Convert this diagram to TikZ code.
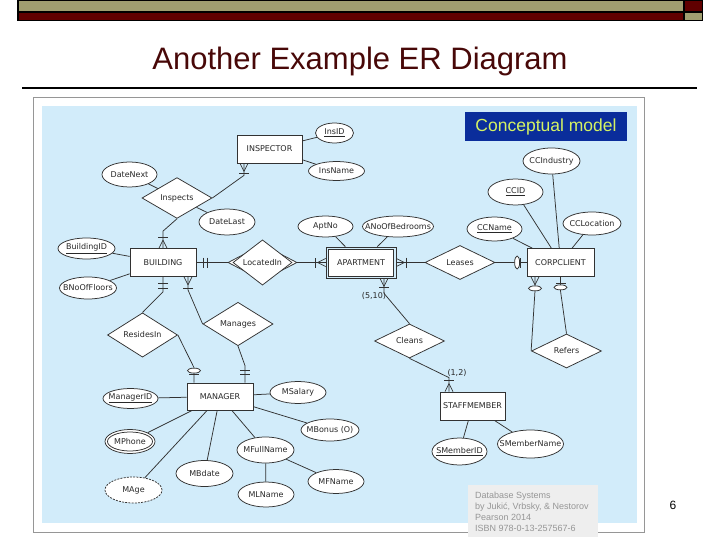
\documentclass[tikz,border=0pt]{standalone}
\usepackage{fontspec}
\setmainfont{Liberation Sans}
\newfontfamily\djv{DejaVu Sans}
\usetikzlibrary{shapes.geometric}
\definecolor{olivebar}{RGB}{160,158,112}
\definecolor{maroonbar}{RGB}{96,0,0}
\definecolor{titlecol}{RGB}{72,8,8}
\definecolor{skyblue}{RGB}{210,236,250}
\definecolor{cmblue}{RGB}{10,45,155}
\definecolor{cmtext}{RGB}{212,242,100}
\definecolor{erline}{RGB}{50,50,50}
\definecolor{ertext}{RGB}{40,40,40}
\definecolor{citebg}{RGB}{238,238,238}
\definecolor{citetext}{RGB}{150,150,150}
\definecolor{framegray}{RGB}{150,150,150}
\newcommand\erfont{\djv\fontsize{8}{9.5}\selectfont}
\newcommand\ercrow[2]{\draw[erl,shift={(#1)},rotate=#2] (8,0) -- (0,-4) (8,0) -- (0,4);}
\newcommand\erbar[3]{\draw[erl,shift={(#1)},rotate=#2] (#3,-5) -- (#3,5);}
\newcommand\erring[3]{\draw[erl,fill=white,shift={(#1)},rotate=#2] (#3,0) ellipse [x radius=2.5,y radius=6.5];}
\begin{document}
\begin{tikzpicture}[x=1pt,y=-1pt,
  erl/.style={draw=erline,line width=0.75pt},
  ertxt/.style={font=\erfont,text=ertext,inner sep=0},
  entity/.style={erl,fill=white,rectangle,minimum width=66pt,minimum height=28pt,inner sep=0,font=\erfont,text=ertext},
  rel/.style={erl,fill=white,diamond,minimum width=70pt,minimum height=34pt,inner sep=0,font=\erfont,text=ertext},
  attr/.style={erl,fill=white,ellipse,inner sep=0},
  citeline/.style={anchor=base west,inner sep=0,text=citetext,font=\fontsize{9}{11}\selectfont}]
\useasboundingbox (0,0) rectangle (720,540);
% top bar
\fill[black] (17,0) rectangle (703,21.5);
\fill[olivebar] (19,0.8) rectangle (683,11);
\fill[maroonbar] (19,13) rectangle (683,20);
\fill[maroonbar] (685,0.8) rectangle (702,11);
\fill[olivebar] (685,13) rectangle (702,20);
% title
\node[anchor=base,inner sep=0,text=titlecol,font=\fontsize{31}{36}\selectfont] (title) at (360,70) {Another Example ER Diagram};
\draw[line width=2pt] (22,88) -- (697,88);
% frame
\draw[framegray,line width=1.2pt,fill=white] (33.5,97.5) rectangle (644.5,532.5);
\fill[skyblue] (42,106) rectangle (637,523);
\node[fill=cmblue,minimum width=162pt,minimum height=29pt,inner sep=0,text=cmtext,font=\fontsize{17.5}{20}\selectfont] (cm) at (546,126.5) {Conceptual model};
% entities
\node[entity,minimum width=65pt] (insp) at (269.5,149) {INSPECTOR};
\node[entity] (bld) at (163,262.5) {BUILDING};
\node[entity,minimum width=65pt,minimum height=27pt] (aptin) at (361,262.5) {APARTMENT};
\node[erl,rectangle,minimum width=70pt,minimum height=31pt,inner sep=0] (apt) at (361,262.5) {};
\node[entity,minimum width=67pt] (cc) at (560.5,262.5) {CORPCLIENT};
\node[entity,minimum height=27pt] (mgr) at (220,396.5) {MANAGER};
\node[entity,minimum width=65pt] (stf) at (472.5,406) {STAFFMEMBER};
% relationships
\node[rel] (inspects) at (177,198) {Inspects};
\node[rel,minimum width=69pt,minimum height=36pt] (loc) at (262.5,262.5) {};
\node[rel,minimum width=59pt,minimum height=28pt] (locin) at (262.5,262.5) {LocatedIn};
\node[rel] (leases) at (460,262.5) {Leases};
\node[rel] (res) at (142.5,335) {ResidesIn};
\node[rel] (man) at (238,324) {Manages};
\node[rel] (cleans) at (409.5,341) {Cleans};
\node[rel] (refers) at (566.5,351) {Refers};
% attributes
\node[attr,minimum width=38pt,minimum height=20pt,label={[ertxt]center:\underline{InsID}}] (insid) at (334.5,133) {};
\node[attr,minimum width=56pt,minimum height=19pt,label={[ertxt]center:InsName}] (insname) at (336.5,171) {};
\node[attr,minimum width=55pt,minimum height=25pt,label={[ertxt]center:DateNext}] (dnext) at (129.5,174.5) {};
\node[attr,minimum width=56pt,minimum height=26pt,label={[ertxt]center:DateLast}] (dlast) at (227,222) {};
\node[attr,minimum width=57pt,minimum height=21pt,label={[ertxt]center:\underline{BuildingID}}] (bldid) at (86.5,248.5) {};
\node[attr,minimum width=57pt,minimum height=22pt,label={[ertxt]center:BNoOfFloors}] (bnof) at (88,288) {};
\node[attr,minimum width=55pt,minimum height=21pt,label={[ertxt]center:AptNo}] (aptno) at (325.5,226.5) {};
\node[attr,minimum width=71pt,minimum height=21pt,label={[ertxt]center:ANoOfBedrooms}] (anob) at (398,226.5) {};
\node[attr,minimum width=57pt,minimum height=26pt,label={[ertxt]center:CCIndustry}] (ccind) at (551.5,161) {};
\node[attr,minimum width=55pt,minimum height=26pt,label={[ertxt]center:\underline{CCID}}] (ccid) at (515.5,192) {};
\node[attr,minimum width=58pt,minimum height=23pt,label={[ertxt]center:CCLocation}] (ccloc) at (592,223.5) {};
\node[attr,minimum width=55pt,minimum height=24pt,label={[ertxt]center:\underline{CCName}}] (ccname) at (494.5,229) {};
\node[attr,minimum width=55pt,minimum height=20pt,label={[ertxt]center:\underline{ManagerID}}] (mid) at (130.5,398.5) {};
\node[attr,minimum width=56pt,minimum height=22pt,label={[ertxt]center:MSalary}] (msal) at (298,392.5) {};
\node[attr,minimum width=58pt,minimum height=22pt,label={[ertxt]center:MBonus (O)}] (mbon) at (330,430) {};
\node[attr,minimum width=50pt,minimum height=24pt] (mph) at (130,441.5) {};
\node[attr,minimum width=45pt,minimum height=19pt,label={[ertxt]center:MPhone}] (mphin) at (130,441.5) {};
\node[attr,minimum width=57pt,minimum height=26pt,label={[ertxt]center:MFullName}] (mfull) at (265.5,450) {};
\node[attr,minimum width=57pt,minimum height=26pt,label={[ertxt]center:MBdate}] (mbd) at (204.5,473.5) {};
\node[attr,minimum width=56pt,minimum height=24pt,label={[ertxt]center:MFName}] (mfname) at (336,481.5) {};
\node[attr,dashed,dash pattern=on 2pt off 1.2pt,minimum width=57pt,minimum height=26pt,label={[ertxt]center:MAge}] (mage) at (133.5,490) {};
\node[attr,minimum width=56pt,minimum height=25pt,label={[ertxt]center:MLName}] (mlname) at (266,494.5) {};
\node[attr,minimum width=55pt,minimum height=27pt,label={[ertxt]center:\underline{SMemberID}}] (smid) at (459.5,451.5) {};
\node[attr,minimum width=66pt,minimum height=28pt,label={[ertxt]center:SMemberName}] (smname) at (530.5,444) {};
% cardinalities
\node[ertxt] (card1) at (374,296) {(5,10)};
\node[ertxt] (card2) at (457,373) {(1,2)};
% connector end points
\coordinate (e1) at ([xshift=-25.5pt]insp.south);
\coordinate (e2) at (bld.north);
\coordinate (e3) at (bld.east);
\coordinate (e4) at (apt.west);
\coordinate (e5) at (apt.east);
\coordinate (e6) at (cc.west);
\coordinate (e7) at ([xshift=23pt]apt.south);
\coordinate (e8) at (bld.south);
\coordinate (e9) at ([xshift=25pt]bld.south);
\coordinate (e10) at ([xshift=-26pt]mgr.north);
\coordinate (e11) at ([xshift=25pt]mgr.north);
\coordinate (e12) at ([xshift=-23.5pt]stf.north);
\coordinate (e13) at ([xshift=-25.5pt]cc.south);
\coordinate (e14) at (cc.south);
% connectors
\draw[erl] (insp) -- (insid);
\draw[erl] (insp) -- (insname);
\draw[erl] (e1) -- ++(0,12) -- (inspects.east);
\draw[erl] (dnext) -- (inspects);
\draw[erl] (dlast) -- (inspects);
\draw[erl] (inspects.south) -- ([yshift=17pt]e2) -- (e2);
\draw[erl] (bldid) -- (bld);
\draw[erl] (bnof) -- (bld);
\draw[erl] (e3) -- (loc.west);
\draw[erl] (loc.east) -- (e4);
\draw[erl] (aptno) -- (apt);
\draw[erl] (anob) -- (apt);
\draw[erl] (e5) -- (leases.west);
\draw[erl] (leases.east) -- (e6);
\draw[erl] (ccname) -- (cc);
\draw[erl] (ccid) -- (cc);
\draw[erl] (ccind) -- (cc);
\draw[erl] (ccloc) -- (cc);
\draw[erl] (e7) -- ++(0,15) -- (cleans.north);
\draw[erl] (cleans.south) -- ([yshift=14pt]e12) -- (e12);
\draw[erl] (stf) -- (smid);
\draw[erl] (stf) -- (smname);
\draw[erl] (e13) -- ++(0,14) -- (refers.west);
\draw[erl] (e14) -- ++(0,14) -- (refers.north);
\draw[erl] (e8) -- ++(0,15) -- (res.north);
\draw[erl] (e9) -- ++(0,13) -- (man.west);
\draw[erl] (res.east) -- ([yshift=15pt]e10) -- (e10);
\draw[erl] (man.south) -- ([yshift=17pt]e11) -- (e11);
\draw[erl] (mgr) -- (mid);
\draw[erl] (mgr) -- (msal);
\draw[erl] (mgr) -- (mbon);
\draw[erl] (mgr) -- (mph);
\draw[erl] (mgr) -- (mage);
\draw[erl] (mgr) -- (mbd);
\draw[erl] (mgr) -- (mfull);
\draw[erl] (mfull) -- (mlname);
\draw[erl] (mfull) -- (mfname);
% notation
\ercrow{e1}{-90} \erbar{e1}{-90}{10}
\ercrow{e2}{90} \erbar{e2}{90}{11}
\erbar{e3}{0}{7} \erbar{e3}{0}{11}
\ercrow{e4}{180} \erbar{e4}{180}{10}
\ercrow{e5}{0} \erbar{e5}{0}{10}
\erbar{e6}{180}{6} \erring{e6}{180}{9.5}
\ercrow{e7}{-90} \erbar{e7}{-90}{9}
\erbar{e8}{-90}{6} \erbar{e8}{-90}{11}
\ercrow{e9}{-90} \erbar{e9}{-90}{11}
\erbar{e10}{90}{8} \erring{e10}{90}{12}
\erbar{e11}{90}{8} \erbar{e11}{90}{12}
\ercrow{e12}{90} \erbar{e12}{90}{11}
\ercrow{e13}{-90} \erring{e13}{-90}{11.5}
\erbar{e14}{-90}{6} \erring{e14}{-90}{10.5}
% citation
\fill[citebg] (468,485) rectangle (598,537);
\node[citeline] (cite1) at (475,498) {Database Systems};
\node[citeline] (cite2) at (475,509) {by Jukić, Vrbsky, \& Nestorov};
\node[citeline] (cite3) at (475,520) {Pearson 2014};
\node[citeline] (cite4) at (475,531) {ISBN 978-0-13-257567-6};
% page number
\node[inner sep=0,font=\fontsize{12}{14}\selectfont] (pg) at (673,505) {6};
\end{tikzpicture}
\end{document}
